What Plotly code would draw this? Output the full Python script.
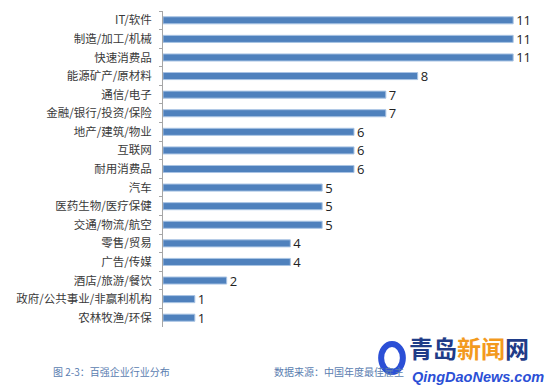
import plotly.graph_objects as go

categories = ["IT/软件", "制造/加工/机械", "快速消费品", "能源矿产/原材料", "通信/电子",
              "金融/银行/投资/保险", "地产/建筑/物业", "互联网", "耐用消费品", "汽车",
              "医药生物/医疗保健", "交通/物流/航空", "零售/贸易", "广告/传媒",
              "酒店/旅游/餐饮", "政府/公共事业/非赢利机构", "农林牧渔/环保"]
values = [11, 11, 11, 8, 7, 7, 6, 6, 6, 5, 5, 5, 4, 4, 2, 1, 1]

caption = "图 2-3：百强企业行业分布"
source = "数据来源：中国年度最佳雇主"

cjk = "Noto Sans CJK SC"

fig = go.Figure()
fig.add_trace(go.Bar(
    x=values, y=categories, orientation="h",
    marker=dict(color="#4F81BD", line=dict(color="#A9C4E4", width=1)),
    text=[str(v) for v in values], textposition="outside",
    constraintext="none",
    textfont=dict(family="Open Sans", size=13, color="#222222"),
    cliponaxis=False,
))

fig.update_layout(
    width=550, height=392,
    margin=dict(l=163, r=5, t=11, b=65),
    paper_bgcolor="white", plot_bgcolor="white",
    bargap=0.62, showlegend=False,
    xaxis=dict(range=[0, 12], visible=False),
    yaxis=dict(
        autorange="reversed", type="category",
        showline=True, linecolor="#A6A6A6", linewidth=1,
        ticks="outside", ticklen=3, tickcolor="#A6A6A6", tickson="boundaries",
        ticklabelstandoff=8,
        tickfont=dict(family=cjk, size=11.5, color="#3A3A3A"),
        showgrid=False, zeroline=False,
    ),
    font=dict(family=cjk),
)

fig.add_annotation(text=caption, xref="paper", yref="paper", x=-113/387, y=-44/316,
                   xanchor="left", yanchor="middle", showarrow=False,
                   font=dict(family=cjk, size=10, color="#5A7DB0"))
fig.add_annotation(text=source, xref="paper", yref="paper", x=110/387, y=-44/316,
                   xanchor="left", yanchor="middle", showarrow=False,
                   font=dict(family=cjk, size=10, color="#5A7DB0"))

# watermark
fig.add_shape(type="circle", xref="paper", yref="paper",
              x0=(384-163)/387, x1=(406-163)/387, y0=(327-372)/316, y1=(327-344)/316,
              line=dict(color="#2B4FD6", width=6), fillcolor="rgba(0,0,0,0)")
fig.add_annotation(text="<b>青岛<span style='color:#F39A1E'>新闻</span>网</b>",
                   xref="paper", yref="paper", x=(410-163)/387, y=(327-367)/316,
                   xanchor="left", yanchor="bottom", showarrow=False,
                   font=dict(family=cjk, size=24, color="#1F3C88"))
fig.add_annotation(text="<b><i>QingDaoNews.com</i></b>",
                   xref="paper", yref="paper", x=(413-163)/387, y=(327-367)/316,
                   xanchor="left", yanchor="top", showarrow=False,
                   font=dict(family="Liberation Sans", size=14.5, color="#2B4FD6"))

fig.write_html("out.html", config={"displayModeBar": False},
               post_script="document.body.style.margin='0';")
